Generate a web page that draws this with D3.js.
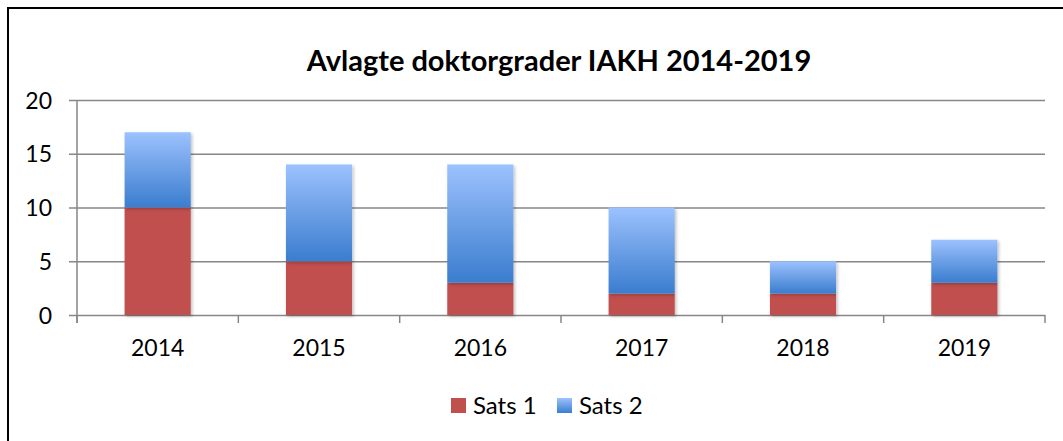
<!DOCTYPE html>
<html>
<head>
<meta charset="utf-8">
<script src="https://cdn.jsdelivr.net/npm/d3@7"></script>
<style>
  body { margin: 0; background: #fff; }
  svg text { font-family: Lato, "Open Sans", sans-serif; fill: #000; }
</style>
</head>
<body>
<svg id="chart"></svg>
<script>
const years = ['2014', '2015', '2016', '2017', '2018', '2019'];
const sats1 = [10, 5, 3, 2, 2, 3];
const sats2 = [7, 9, 11, 8, 3, 4];
const yTicks = [0, 5, 10, 15, 20];
const seriesNames = ['Sats 1', 'Sats 2'];

const W = 1063;
const H = 441;
const margin = { top: 100, right: 18, bottom: 126, left: 77 };

const svg = d3.select('#chart').attr('width', W).attr('height', H);

const defs = svg.append('defs');
const grad = defs.append('linearGradient')
  .attr('id', 'blueGrad')
  .attr('x1', 0).attr('y1', 0).attr('x2', 0).attr('y2', 1);
grad.append('stop').attr('offset', '0%').attr('stop-color', '#9cc2ff');
grad.append('stop').attr('offset', '35%').attr('stop-color', '#7aa9ec');
grad.append('stop').attr('offset', '100%').attr('stop-color', '#3a7dcf');

const shadow = defs.append('filter').attr('id', 'shadow')
  .attr('x', '-10%').attr('y', '-10%').attr('width', '130%').attr('height', '130%');
shadow.append('feDropShadow')
  .attr('dx', 1.5).attr('dy', 1.5).attr('stdDeviation', 1.5)
  .attr('flood-color', '#000').attr('flood-opacity', 0.25);

// outer frame (only left and top show in the crop)
svg.append('rect')
  .attr('x', 8).attr('y', 8)
  .attr('width', W + 20).attr('height', H + 20)
  .attr('fill', 'none')
  .attr('stroke', '#000')
  .attr('stroke-width', 2);

svg.append('text')
  .attr('x', 559)
  .attr('y', 71)
  .attr('text-anchor', 'middle')
  .style('font-weight', 'bold')
  .style('font-size', '29px')
  .text('Avlagte doktorgrader IAKH 2014-2019');

const width = W - margin.left - margin.right;
const height = H - margin.top - margin.bottom;

const g = svg.append('g').attr('transform', `translate(${margin.left},${margin.top})`);

const x = d3.scaleBand().domain(years).range([0, width]).paddingInner(0.59).paddingOuter(0.295);
const xOuter = d3.scaleBand().domain(years).range([0, width]);
const y = d3.scaleLinear().domain([0, 20]).range([height, 0]);

// gridlines + y axis
const yAxis = d3.axisLeft(y).tickValues(yTicks).tickSize(-width).tickPadding(25);
g.append('g')
  .attr('class', 'axis axis--y')
  .call(yAxis)
  .call(a => a.select('.domain').remove())
  .call(a => a.selectAll('.tick line').attr('stroke', '#878787').attr('stroke-width', 1.5).attr('x1', -8))
  .call(a => a.selectAll('.tick text').style('font-size', '23px').attr('dy', '0.35em'));

g.append('line')
  .attr('x1', 0).attr('x2', 0)
  .attr('y1', 0).attr('y2', height + 8)
  .attr('stroke', '#878787').attr('stroke-width', 1.5);

// x axis ticks at category boundaries
const boundaries = d3.range(years.length + 1).map(i => i * xOuter.step());
g.append('g')
  .selectAll('line')
  .data(boundaries)
  .join('line')
  .attr('x1', d => d).attr('x2', d => d)
  .attr('y1', height).attr('y2', height + 8)
  .attr('stroke', '#878787').attr('stroke-width', 1.5);

const xAxis = d3.axisBottom(x).tickSize(0).tickPadding(25);
g.append('g')
  .attr('class', 'axis axis--x')
  .attr('transform', `translate(0,${height})`)
  .call(xAxis)
  .call(a => a.select('.domain').remove())
  .call(a => a.selectAll('.tick text').style('font-size', '23px'));

// stacked bars
const rows = years.map((yr, i) => ({ year: yr, s1: sats1[i], s2: sats2[i] }));
const stack = d3.stack().keys(['s1', 's2'])(rows);
const fills = ['#c0504d', 'url(#blueGrad)'];

g.selectAll('g.series')
  .data(stack)
  .join('g')
  .attr('class', 'series')
  .attr('fill', (d, i) => fills[i])
  .selectAll('rect')
  .data(d => d)
  .join('rect')
  .attr('x', d => x(d.data.year))
  .attr('y', d => y(d[1]))
  .attr('width', x.bandwidth())
  .attr('height', d => y(d[0]) - y(d[1]))
  .attr('filter', 'url(#shadow)');

// legend
const legend = svg.append('g').attr('transform', 'translate(451,398)');
const legendX = [0, 106];
seriesNames.forEach((name, i) => {
  const item = legend.append('g').attr('transform', `translate(${legendX[i]},0)`);
  item.append('rect').attr('width', 15).attr('height', 15).attr('fill', fills[i]);
  item.append('text').attr('x', 22).attr('y', 16).style('font-size', '24px').text(name);
});
</script>
</body>
</html>
